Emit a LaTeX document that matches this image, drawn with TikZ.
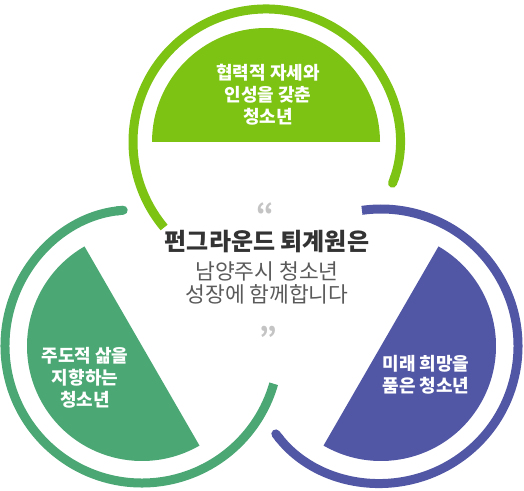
\documentclass[tikz,border=0pt]{standalone}
\usepackage{fontspec}
\newfontfamily\kr{Noto Sans CJK KR}
\usetikzlibrary{arrows.meta}
\definecolor{topgreen}{HTML}{7DC313}
\definecolor{leftgreen}{HTML}{4BA875}
\definecolor{rightblue}{HTML}{5257A5}
\definecolor{titlegray}{HTML}{333333}
\definecolor{subgray}{HTML}{5A5A5A}
\definecolor{quotegray}{HTML}{C4C4C4}
\begin{document}
\begin{tikzpicture}[x=1pt,y=1pt,
  ring/.style={line width=9pt},
  panelTxt/.style={text=white,align=center,font=\kr\bfseries\fontsize{18}{22}\selectfont}]
  \useasboundingbox (0,0) rectangle (524,490);
  \coordinate (topC) at (266,348); \coordinate (leftC) at (142,144);
  \coordinate (rightC) at (381,144);
  % half discs
  \fill[topgreen] ([shift={(180:114)}]topC) arc[start angle=180,end angle=0,radius=114] -- cycle;
  \fill[leftgreen] ([shift={(120:115)}]leftC) arc[start angle=120,end angle=300,radius=115] -- cycle;
  \fill[rightblue] ([shift={(-120:115)}]rightC) arc[start angle=-120,end angle=60,radius=115] -- cycle;
  % open rings, one round end each
  \draw[ring,topgreen,{Round Cap}-] ([shift={(-20:133)}]topC) arc[start angle=-20,end angle=220,radius=133];
  \draw[ring,leftgreen,{Round Cap}-] ([shift={(96:137)}]leftC) arc[start angle=96,end angle=344,radius=137];
  \draw[ring,rightblue,{Round Cap}-] ([shift={(-142:137)}]rightC) arc[start angle=-142,end angle=98,radius=137];
  \node[panelTxt] (topTxt) at (268,395) {협력적 자세와\\인성을 갖춘\\청소년};
  \node[panelTxt] (leftTxt) at (85,112) {주도적 삶을\\지향하는\\청소년};
  \node[panelTxt] (rightTxt) at (426,115) {미래 희망을\\품은 청소년};
  % centre quote
  \node[text=quotegray,font=\kr\bfseries\fontsize{28}{28}\selectfont] (openQ) at (265,276) {“};
  \node[text=titlegray,font=\kr\bfseries\fontsize{24}{26}\selectfont] (title) at (267,248) {펀그라운드 퇴계원은};
  \node[text=subgray,align=center,font=\kr\fontsize{21.5}{23}\selectfont] (sub) at (267,207) {남양주시 청소년\\성장에 함께합니다};
  \node[text=quotegray,font=\kr\bfseries\fontsize{28}{28}\selectfont] (closeQ) at (268,153) {”};
\end{tikzpicture}
\end{document}
